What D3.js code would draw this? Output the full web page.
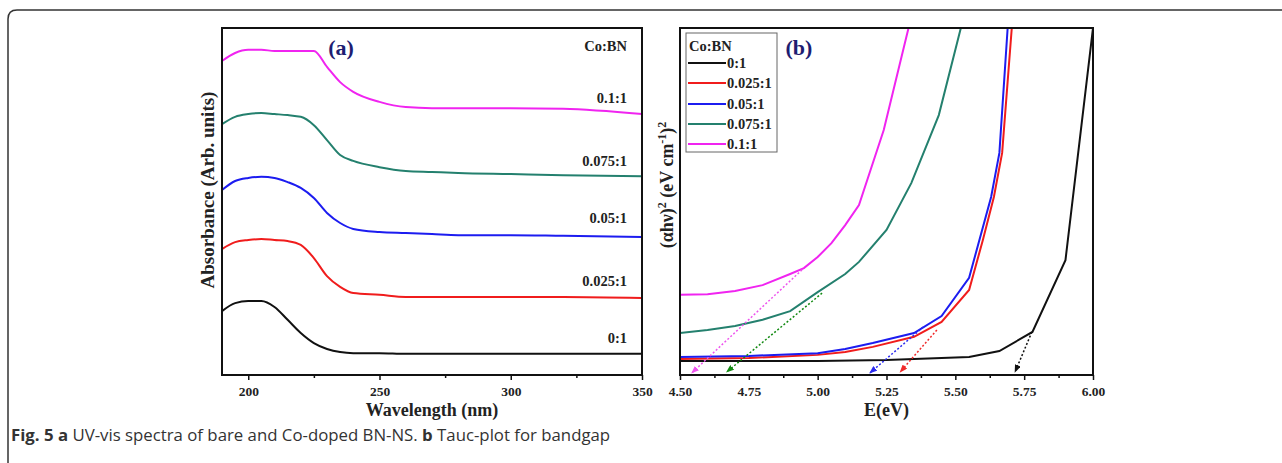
<!DOCTYPE html>
<html>
<head>
<meta charset="utf-8">
<script src="https://cdn.jsdelivr.net/npm/d3@7"></script>
<style>
  body { margin: 0; background: #fff; }
  svg text { font-family: 'Liberation Serif', 'Times New Roman', serif; font-weight: bold; fill: #222; }
  svg text.caption { font-family: 'Open Sans', sans-serif; font-weight: normal; fill: #333; }
</style>
</head>
<body>
<svg id="chart" width="1282" height="463"></svg>
<script>
// ---- data ----
const ratios = ['0:1', '0.025:1', '0.05:1', '0.075:1', '0.1:1'];
const colors = ['#111111', '#f01c1c', '#1c1cf0', '#24806e', '#f024f0'];
const tangentColors = ['#111111', '#f02a2a', '#2a2af0', '#128a12', '#ee55ee'];

// (a) absorbance, arbitrary units, offset per sample
const wavelength = [190, 195, 200, 205, 210, 215, 220, 225, 230, 235, 240, 250, 260, 270, 280, 300, 320, 350];
const abs0 = [18.4, 20.7, 21.3, 21.3, 19.6, 15.9, 12.1, 9.2, 7.5, 6.6, 6.3, 6.3, 6.1, 6.1, 6.1, 6.1, 6.1, 6.1];
const abs025 = [36.3, 38.3, 38.9, 39.2, 38.9, 38.6, 37.5, 33.7, 28.5, 25.4, 23.6, 23.1, 22.5, 22.5, 22.5, 22.5, 22.5, 22.2];
const abs05 = [53.3, 55.9, 56.8, 57.1, 56.8, 55.6, 53.9, 51.0, 46.7, 43.8, 42.1, 41.2, 40.9, 40.6, 40.3, 40.3, 40.1, 39.8];
const abs075 = [72.3, 74.4, 75.2, 75.5, 75.2, 74.9, 74.4, 72.0, 67.7, 63.4, 61.7, 59.9, 58.8, 58.5, 58.2, 57.9, 57.6, 57.3];
const abs1 = [90.5, 92.8, 93.7, 93.7, 93.4, 93.4, 93.4, 93.4, 88.8, 84.4, 81.6, 78.7, 77.2, 76.9, 76.9, 76.9, 76.7, 75.2];

// (b) Tauc plot
const eBlack = [4.50, 5.00, 5.25, 5.55, 5.66, 5.78, 5.90, 6.00];
const tBlack = [4.0, 4.0, 4.3, 5.2, 6.9, 12.4, 33.1, 100];
const eRed = [4.50, 4.75, 5.00, 5.10, 5.20, 5.35, 5.45, 5.55, 5.60, 5.64, 5.67, 5.705];
const tRed = [4.6, 4.9, 5.8, 6.6, 8.1, 11.0, 15.3, 24.5, 38.9, 51.3, 64.0, 100];
const eBlue = [4.50, 4.75, 5.00, 5.10, 5.20, 5.35, 5.45, 5.55, 5.63, 5.66, 5.69];
const tBlue = [5.2, 5.5, 6.3, 7.5, 9.2, 12.1, 17.0, 28.0, 51.3, 64.0, 100];
const eTeal = [4.50, 4.60, 4.70, 4.80, 4.90, 5.00, 5.10, 5.15, 5.25, 5.34, 5.44, 5.52];
const tTeal = [12.1, 13.0, 14.1, 15.9, 18.4, 23.9, 29.1, 32.6, 41.8, 55.3, 74.9, 100];
const eMag = [4.50, 4.60, 4.70, 4.80, 4.90, 4.95, 5.00, 5.05, 5.10, 5.15, 5.24, 5.33];
const tMag = [23.1, 23.3, 24.2, 25.9, 29.1, 30.8, 34.0, 38.0, 43.2, 49.0, 70.6, 100];

// linear extrapolations to the E axis (start on curve -> end at axis)
const tanStartE = [5.778, 5.433, 5.383, 5.016, 4.943];
const tanStartT = [12.4, 13.0, 13.8, 23.6, 30.3];
const tanEndE = [5.717, 5.30, 5.19, 4.67, 4.543];
const tanEndT = [0.9, 0.9, 0.6, 0.9, 0.6];

const xTicksA = [200, 250, 300, 350];
const xMinorA = [225, 275, 325];
const xTicksB = [4.50, 4.75, 5.00, 5.25, 5.50, 5.75, 6.00];
const xMinorB = [4.625, 4.875, 5.125, 5.375, 5.625, 5.875];

// ---- layout ----
const svg = d3.select('#chart');
const plotTop = 28, plotBottom = 375;
const panelA = { left: 222, right: 642 };
const panelB = { left: 680, right: 1093 };

// card border
svg.append('path')
  .attr('d', 'M 8 463 V 19 Q 8 10 17 10 H 1282')
  .attr('fill', 'none').attr('stroke', '#333').attr('stroke-width', 1.5);

const fmtPts = (xs, ys) => xs.map((x, i) => [x, ys[i]]);

function axes(xScale, ticks, minor, fmt) {
  const g = svg.append('g').attr('transform', `translate(0,${plotBottom})`);
  g.call(d3.axisBottom(xScale).tickValues(ticks).tickSize(5).tickPadding(6).tickFormat(fmt));
  g.select('.domain').remove();
  g.selectAll('.tick line').attr('stroke', '#111').attr('stroke-width', 1.5);
  g.selectAll('.tick text').attr('font-size', 13.5).attr('fill', '#222')
    .style('font-family', "'Liberation Serif','Times New Roman',serif").style('font-weight', 'bold');
  const m = svg.append('g').attr('transform', `translate(0,${plotBottom})`);
  m.call(d3.axisBottom(xScale).tickValues(minor).tickSize(3).tickFormat(''));
  m.select('.domain').remove();
  m.selectAll('.tick line').attr('stroke', '#111').attr('stroke-width', 1.5);
}

// ---- panel (a) ----
const xA = d3.scaleLinear().domain([190, 350]).range([panelA.left, panelA.right]);
const yA = d3.scaleLinear().domain([0, 100]).range([plotBottom, plotTop]);
const lineA = d3.line().x(d => xA(d[0])).y(d => yA(d[1])).curve(d3.curveMonotoneX);
const seriesA = [abs0, abs025, abs05, abs075, abs1];

svg.append('g').selectAll('path')
  .data(seriesA)
  .join('path')
  .attr('d', d => lineA(fmtPts(wavelength, d)))
  .attr('fill', 'none')
  .attr('stroke', (d, i) => colors[i])
  .attr('stroke-width', 2);

svg.append('rect')
  .attr('x', panelA.left).attr('y', plotTop)
  .attr('width', panelA.right - panelA.left).attr('height', plotBottom - plotTop)
  .attr('fill', 'none').attr('stroke', '#111').attr('stroke-width', 2);

axes(xA, xTicksA, xMinorA, d3.format('d'));

// sample labels on the right of each curve
const labelY = [343, 286, 223, 166, 103];
svg.append('g').selectAll('text')
  .data(ratios)
  .join('text')
  .attr('x', 627).attr('y', (d, i) => labelY[i])
  .attr('text-anchor', 'end').attr('font-size', 14.5)
  .text(d => d);
svg.append('text').attr('x', 627).attr('y', 51).attr('text-anchor', 'end')
  .attr('font-size', 14.5).text('Co:BN');
svg.append('text').attr('x', 341).attr('y', 55).attr('text-anchor', 'middle')
  .attr('font-size', 22).style('fill', '#1d1d72').text('(a)');

svg.append('text').attr('x', panelA.left + (panelA.right - panelA.left) / 2).attr('y', 416)
  .attr('text-anchor', 'middle').attr('font-size', 18).text('Wavelength (nm)');
svg.append('text')
  .attr('transform', 'translate(214,190) rotate(-90)')
  .attr('text-anchor', 'middle').attr('font-size', 19).text('Absorbance (Arb. units)');

// ---- panel (b) ----
const xB = d3.scaleLinear().domain([4.5, 6.0]).range([panelB.left, panelB.right]);
const yB = d3.scaleLinear().domain([0, 100]).range([plotBottom, plotTop]);
const lineB = d3.line().x(d => xB(d[0])).y(d => yB(d[1]));
const seriesB = [fmtPts(eBlack, tBlack), fmtPts(eRed, tRed), fmtPts(eBlue, tBlue), fmtPts(eTeal, tTeal), fmtPts(eMag, tMag)];

const defs = svg.append('defs');
defs.append('clipPath').attr('id', 'clipB')
  .append('rect').attr('x', panelB.left).attr('y', plotTop)
  .attr('width', panelB.right - panelB.left).attr('height', plotBottom - plotTop);

tangentColors.forEach((c, i) => {
  defs.append('marker')
    .attr('id', 'arrow' + i)
    .attr('viewBox', '0 0 8 6')
    .attr('refX', 7).attr('refY', 3)
    .attr('markerWidth', 8).attr('markerHeight', 6)
    .attr('markerUnits', 'userSpaceOnUse')
    .attr('orient', 'auto')
    .append('path').attr('d', 'M0,0 L8,3 L0,6 Z').attr('fill', c);
});

const gB = svg.append('g').attr('clip-path', 'url(#clipB)');
gB.selectAll('.tauc')
  .data(seriesB)
  .join('path').attr('class', 'tauc')
  .attr('d', d => lineB(d))
  .attr('fill', 'none')
  .attr('stroke', (d, i) => colors[i])
  .attr('stroke-width', 2);

svg.append('g').selectAll('line')
  .data(ratios)
  .join('line')
  .attr('x1', (d, i) => xB(tanStartE[i])).attr('y1', (d, i) => yB(tanStartT[i]))
  .attr('x2', (d, i) => xB(tanEndE[i])).attr('y2', (d, i) => yB(tanEndT[i]))
  .attr('stroke', (d, i) => tangentColors[i])
  .attr('stroke-width', 1.5)
  .attr('stroke-dasharray', '2 2')
  .attr('marker-end', (d, i) => `url(#arrow${i})`);

svg.append('rect')
  .attr('x', panelB.left).attr('y', plotTop)
  .attr('width', panelB.right - panelB.left).attr('height', plotBottom - plotTop)
  .attr('fill', 'none').attr('stroke', '#111').attr('stroke-width', 2);

axes(xB, xTicksB, xMinorB, d3.format('.2f'));

svg.append('text').attr('x', panelB.left + (panelB.right - panelB.left) / 2).attr('y', 416)
  .attr('text-anchor', 'middle').attr('font-size', 18).text('E(eV)');

const yLab = svg.append('text')
  .attr('transform', 'translate(673,185) rotate(-90)')
  .attr('text-anchor', 'middle').attr('font-size', 18);
yLab.append('tspan').text('(αhν)');
yLab.append('tspan').attr('dy', -7).attr('font-size', 12).text('2');
yLab.append('tspan').attr('dy', 7).text(' (eV cm');
yLab.append('tspan').attr('dy', -7).attr('font-size', 12).text('-1');
yLab.append('tspan').attr('dy', 7).text(')');
yLab.append('tspan').attr('dy', -7).attr('font-size', 12).text('2');

svg.append('text').attr('x', 799).attr('y', 55).attr('text-anchor', 'middle')
  .attr('font-size', 22).style('fill', '#1d1d72').text('(b)');

// legend
const legend = svg.append('g');
legend.append('rect').attr('x', 686).attr('y', 33).attr('width', 91).attr('height', 119)
  .attr('fill', '#fff').attr('stroke', '#666').attr('stroke-width', 1);
legend.append('text').attr('x', 689).attr('y', 51).attr('font-size', 14.5).text('Co:BN');
const legY = [63, 83, 104, 124, 144];
legend.selectAll('line.leg')
  .data(ratios)
  .join('line').attr('class', 'leg')
  .attr('x1', 688).attr('x2', 726)
  .attr('y1', (d, i) => legY[i]).attr('y2', (d, i) => legY[i])
  .attr('stroke', (d, i) => colors[i]).attr('stroke-width', 2);
legend.selectAll('text.leg')
  .data(ratios)
  .join('text').attr('class', 'leg')
  .attr('x', 727).attr('y', (d, i) => legY[i] + 5)
  .attr('font-size', 14.5).text(d => d);

// caption
const cap = svg.append('text').attr('class', 'caption').attr('x', 11).attr('y', 441).attr('font-size', 16.8);
cap.append('tspan').style('font-weight', 'bold').text('Fig. 5 a');
cap.append('tspan').text(' UV-vis spectra of bare and Co-doped BN-NS. ');
cap.append('tspan').style('font-weight', 'bold').text('b');
cap.append('tspan').text(' Tauc-plot for bandgap');
</script>
</body>
</html>
